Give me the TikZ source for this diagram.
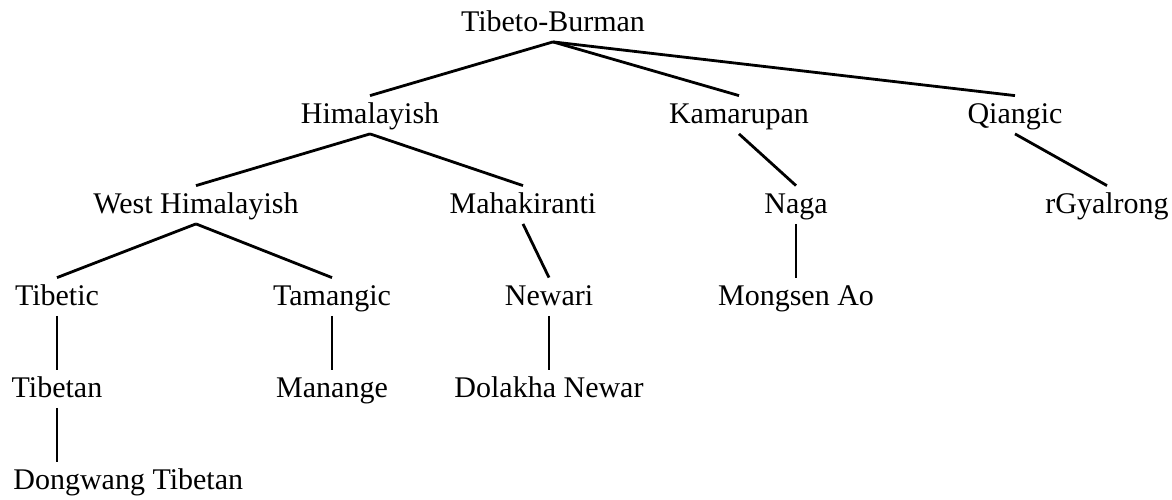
\documentclass[tikz,border=0pt]{standalone}
\usepackage{fontspec}
\setmainfont{Liberation Serif}
\usepackage{tikz}

\begin{document}
\begin{tikzpicture}[
  x=0.5pt, y=-0.5pt,
  lang/.style={anchor=base, inner xsep=0pt, inner ysep=1.5pt,
    text height=12pt, text depth=3.75pt, font=\fontsize{15}{18}\selectfont},
  edge/.style={line width=1.4pt}
]
\useasboundingbox (0,0) rectangle (1172,499);

% Top of the family
\node[lang] (tb) at (553,31) {Tibeto-Burman};

% Main branches
\node[lang] (him) at (370,123) {Himalayish};
\node[lang] (kam) at (739,123) {Kamarupan};
\node[lang] (qia) at (1015,123) {Qiangic};

% Subgroups
\node[lang] (whim) at (196,213) {West Himalayish};
\node[lang] (mah) at (523,213) {Mahakiranti};
\node[lang] (naga) at (796,213) {Naga};
\node[lang] (rgy) at (1107,213) {rGyalrong};

\node[lang] (tibc) at (57,305) {Tibetic};
\node[lang] (tam) at (332,305) {Tamangic};
\node[lang] (new) at (549,305) {Newari};
\node[lang] (mao) at (796,305) {Mongsen Ao};

% Languages
\node[lang] (tibn) at (57,397) {Tibetan};
\node[lang] (man) at (332,397) {Manange};
\node[lang] (dol) at (549,397) {Dolakha Newar};
\node[lang, anchor=base west] (dong) at (13,489) {Dongwang Tibetan};

% Branches
\draw[edge] (tb.south) -- (him.north);
\draw[edge] (tb.south) -- (kam.north);
\draw[edge] (tb.south) -- (qia.north);
\draw[edge] (him.south) -- (whim.north);
\draw[edge] (him.south) -- (mah.north);
\draw[edge] (kam.south) -- (naga.north);
\draw[edge] (qia.south) -- (rgy.north);
\draw[edge] (whim.south) -- (tibc.north);
\draw[edge] (whim.south) -- (tam.north);
\draw[edge] (mah.south) -- (new.north);
\draw[edge] (naga.south) -- (mao.north);
\draw[edge] (tibc.south) -- (tibn.north);
\draw[edge] (tam.south) -- (man.north);
\draw[edge] (new.south) -- (dol.north);
\draw[edge] (tibn.south) -- (tibn.south |- dong.north);

\end{tikzpicture}
\end{document}
